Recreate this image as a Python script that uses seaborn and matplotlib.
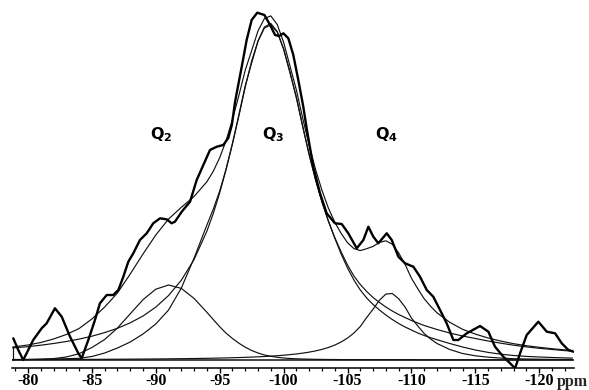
import numpy as np
import matplotlib
matplotlib.use('Agg')
import matplotlib.pyplot as plt
import seaborn as sns

exp_ppm = [-78.85, -79.24, -79.63, -80.41, -81.07, -81.46, -82.11, -82.64, -83.29, -83.94,
           -84.2, -84.72, -85.24, -85.63, -86.16, -86.67, -87.07, -87.46, -87.85, -88.24,
           -88.76, -89.29, -89.8, -90.33, -90.85, -91.24, -91.5, -92.03, -92.68, -93.2,
           -94.24, -94.77, -95.28, -95.67, -95.95, -96.2, -96.45, -96.72, -97.11, -97.5,
           -97.94, -98.5, -98.94, -99.33, -99.65, -99.98, -100.37, -100.76, -101.15, -101.54,
           -101.8, -102.32, -102.85, -103.37, -104.02, -104.55, -105.06, -105.72, -106.24, -106.63,
           -107.02, -107.41, -108.07, -108.46, -108.98, -109.5, -110.15, -110.67, -111.2, -111.71,
           -112.24, -112.76, -113.28, -113.67, -114.33, -115.37, -116.02, -116.54, -117.19, -117.72,
           -118.11, -118.5, -119.02, -119.93, -120.59, -121.24, -121.76, -122.28, -122.67]
exp_int = [21.7, 10, 0, 20, 31.7, 36.7, 51.7, 43.3, 23.3, 6.7,
           1.7, 20, 40, 56.7, 65, 65, 70, 83.3, 98.3, 106.7,
           120, 126.7, 136.7, 141.7, 140.7, 136.7, 138.3, 148.3, 158.3, 180,
           210, 213.3, 215, 222, 235, 258, 275, 293, 320, 340,
           347.3, 345, 335, 325, 324, 326.7, 321.7, 305, 280, 253.3,
           232, 193.3, 166.7, 146.7, 136.7, 136, 126.7, 111.7, 120, 133.3,
           123.3, 116.7, 126.7, 120, 103.3, 96.7, 93.3, 83.3, 70, 63.3,
           50, 36.7, 20, 20, 26.7, 34, 28.3, 13.3, 3.3, -3.3,
           -8.3, 6.7, 25, 38.3, 28.3, 26.7, 16.7, 10, 8.3]

# fitted curves, sampled on a common ppm grid
ppm_fit = [-78.8, -80, -81, -82, -83, -84, -85, -86, -87, -88, -89, -90, -91, -92, -93, -94,
           -94.5, -95, -95.5, -96, -96.5, -97, -97.5, -98, -98.5, -99, -99.5, -100, -100.5,
           -101, -101.5, -102, -102.5, -103, -103.5, -104, -104.5, -105, -105.5, -106, -106.5,
           -107, -107.5, -108, -108.5, -109, -109.5, -110, -110.5, -111, -111.5, -112,
           -113, -114, -115, -116, -117, -118, -119, -120, -121, -122, -122.6]

fit_sum = [13, 15, 17.5, 21, 25.5, 31.5, 41, 53, 67, 86, 106, 125, 141, 152.7, 163.6, 178.3,
           188.8, 202.3, 219.4, 240.6, 264.5, 289.9, 309.4, 329.2, 341.5, 344.1, 335.5, 317.8, 293.9,
           270, 241.5, 214.6, 190.5, 169.7, 152.1, 137.9, 126.6, 117.3, 111.4, 109.4, 111.3,
           113.6, 117.6, 119.2, 115.8, 107.1, 95.8, 81.8, 71.2, 61.2, 53.7, 47.2,
           37.7, 30.7, 25.9, 22, 18.9, 16.3, 14.3, 12.7, 11.3, 10.1, 9.5]

q3_broad = [12.1, 13.3, 14.8, 16.5, 18.5, 20.9, 23.8, 27.4, 31.7, 37.2, 44, 52.9, 64.5, 79.8, 100.6, 128.9,
            146.6, 167.1, 190.5, 216.8, 245.2, 274.4, 297, 319, 333, 336.5, 328.5, 311, 287,
            262.8, 233.6, 205.9, 180.7, 158.5, 139.1, 122.5, 108.2, 95, 84, 75.5, 68.5,
            62.5, 57.5, 53, 49, 45.5, 42.5, 39.5, 37, 34.5, 32.5, 30.5,
            27, 24, 21.5, 19, 16.8, 14.8, 13.1, 11.7, 10.5, 9.4, 8.8]

q3_narrow = [0.5, 0.6, 0.8, 1.0, 1.3, 1.7, 3.5, 7, 12, 18, 26, 36, 50, 72, 102, 135,
             151, 169, 191, 216, 244, 273, 299, 319, 332, 335, 328, 311, 288,
             262, 233, 205, 180, 158, 139, 122, 106, 92, 80, 70, 62,
             55.5, 50, 45, 40.5, 36.5, 33, 30, 27, 24.5, 22.3, 20.3,
             16.5, 13, 10, 7.6, 5.8, 4.5, 3.6, 3.0, 2.5, 2.1, 1.9]

q2 = [0.3, 0.4, 0.7, 1.4, 3.0, 6.3, 12.5, 20.5, 32, 46.2, 60.3, 70.8, 75, 71.6, 61.5, 47.7,
      40.4, 33.3, 26.8, 21.5, 16.8, 12.8, 9.5, 7.0, 5.0, 3.7, 2.7, 2.0, 1.5,
      1.2, 1.0, 0.8, 0.7, 0.6, 0.5, 0.5, 0.4, 0.4, 0.4, 0.4, 0.3,
      0.3, 0.3, 0.3, 0.3, 0.3, 0.3, 0.3, 0.2, 0.2, 0.2, 0.2,
      0.2, 0.2, 0.2, 0.2, 0.2, 0.2, 0.2, 0.2, 0.2, 0.2, 0.2]

q4 = [0.41, 0.44, 0.47, 0.51, 0.55, 0.6, 0.65, 0.71, 0.77, 0.85, 0.94, 1.04, 1.16, 1.31, 1.48, 1.69,
      1.81, 1.94, 2.09, 2.26, 2.45, 2.66, 2.91, 3.18, 3.5, 3.86, 4.29, 4.78, 5.37,
      6.05, 6.88, 7.88, 9.1, 10.6, 12.5, 14.9, 18.0, 21.9, 27.0, 33.5, 42.5,
      50.8, 59.8, 65.9, 66.5, 61.3, 53, 42, 34, 26.5, 21, 16.5,
      10.5, 6.5, 4.2, 2.8, 1.9, 1.3, 1.0, 0.8, 0.6, 0.5, 0.5]

labels = ['Q$_{\\mathbf{2}}$', 'Q$_{\\mathbf{3}}$', 'Q$_{\\mathbf{4}}$']
label_ppm = [-89.55, -98.3, -107.15]
label_int = [221, 221, 221]

major_ticks = [-80, -85, -90, -95, -100, -105, -110, -115, -120]

sns.set_theme(style='white')
plt.rcParams['font.family'] = ['DejaVu Sans']
plt.rcParams['axes.unicode_minus'] = False
plt.rcParams['mathtext.fontset'] = 'dejavusans'

fig = plt.figure(figsize=(5.89, 3.90), dpi=100)
ax = fig.add_axes([12 / 589, 22 / 390, 562 / 589, 368 / 390])

ink = '#111111'
for curve in [q2, q4, q3_narrow, q3_broad, fit_sum]:
    sns.lineplot(x=ppm_fit, y=curve, ax=ax, color=ink, lw=0.85, estimator=None, sort=False)
sns.lineplot(x=exp_ppm, y=exp_int, ax=ax, color='black', lw=1.7, estimator=None, sort=False)

ax.axhline(0, color=ink, lw=1.1)
ax.plot([ppm_fit[0], ppm_fit[0]], [0, fit_sum[0]], color=ink, lw=0.85)

for txt, xp, yp in zip(labels, label_ppm, label_int):
    ax.text(xp, yp, txt, fontsize=11.5, fontweight='bold', ha='left', va='baseline', color='black')

ax.set_xlim(-78.75, -122.72)
ax.set_ylim(-8, 360)
for s in ['top', 'right', 'left']:
    ax.spines[s].set_visible(False)
ax.spines['bottom'].set_color('black')
ax.spines['bottom'].set_linewidth(1.1)
ax.set_yticks([])
ax.set_xticks(major_ticks)
ax.set_xticks(np.arange(-79, -123, -1), minor=True)
ax.set_xticklabels([str(t) for t in major_ticks], fontfamily='Liberation Serif',
                   fontweight='bold', fontsize=11.5)
ax.tick_params(axis='x', which='major', direction='out', length=3.5, width=1, pad=0.4, colors='black',
               bottom=True)
ax.tick_params(axis='x', which='minor', direction='out', length=2.5, width=0.9, colors='black',
               bottom=True)
ax.set_xlabel('')
ax.set_ylabel('')

fig.text(572 / 589, 1 - 382 / 390, 'ppm', fontfamily='Liberation Serif', fontweight='bold',
         fontsize=11.5, ha='center', va='center')

fig.savefig('out.png', dpi=100)
